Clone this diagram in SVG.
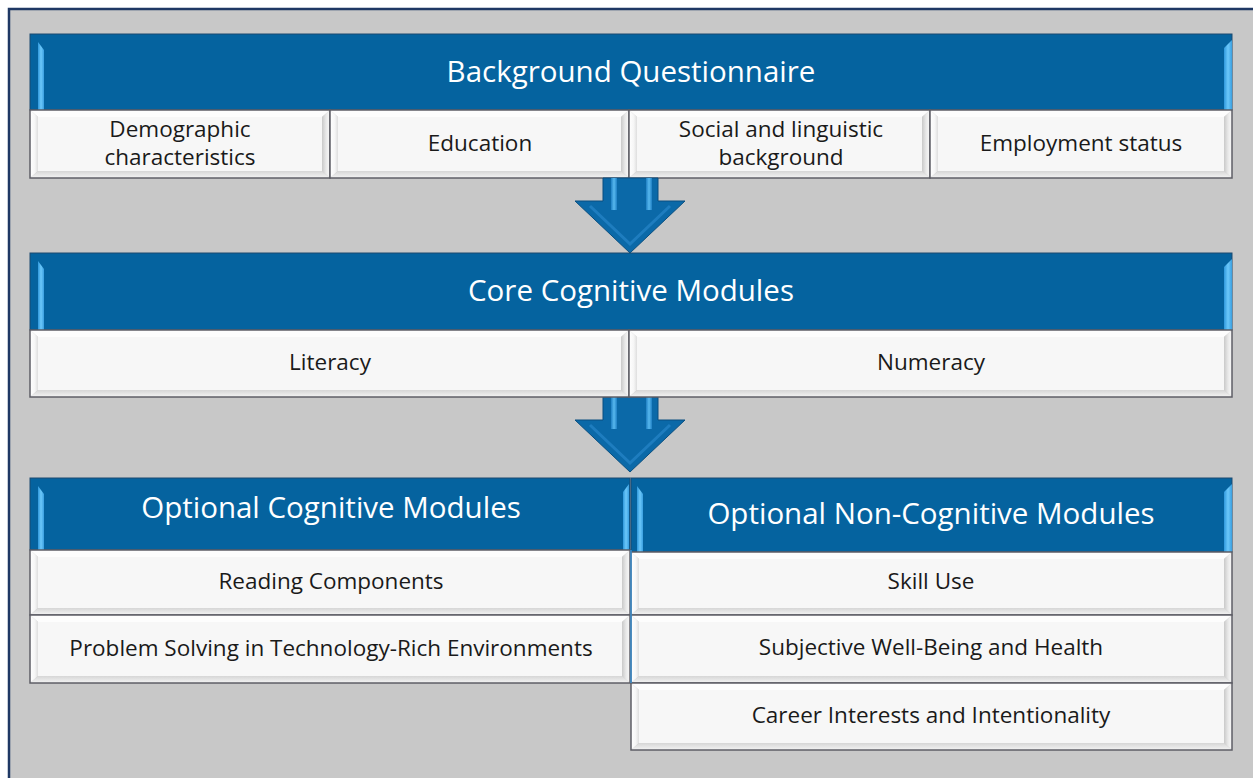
<svg xmlns="http://www.w3.org/2000/svg" width="1253" height="778" viewBox="0 0 1253 778">
<style>
.frame{fill:#c8c8c8;stroke:#1f3864;stroke-width:2.5}
.hdr{fill:#05639f;stroke:#1c4a70;stroke-width:1}
.hl{fill:url(#hlg)}
.bt{fill:#fdfdfd}
.bl{fill:url(#blg)}
.br{fill:url(#brg)}
.bb{fill:url(#bbg)}
.face{fill:#f7f7f7}
.cell{fill:none;stroke:#5e5e66;stroke-width:1.5}
.ht{font-family:"Open Sans","Liberation Sans",sans-serif;font-size:29.5px;fill:#ffffff;text-anchor:middle}
.ct{font-family:"Open Sans","Liberation Sans",sans-serif;font-size:22.5px;fill:#1a1a1a;text-anchor:middle}
.arrow{fill:#0b69a8;stroke:#0a4f80;stroke-width:1}
.ahl{fill:url(#ahg)}
</style>
<defs>
<linearGradient id="hlg" x1="0" y1="0" x2="1" y2="0">
<stop offset="0" stop-color="#2f98dc"/><stop offset="0.5" stop-color="#6cc8fa"/><stop offset="1" stop-color="#3a9fe0"/>
</linearGradient>
<linearGradient id="ahg" x1="0" y1="0" x2="1" y2="0">
<stop offset="0" stop-color="#1f80c4"/><stop offset="0.5" stop-color="#58b8ee"/><stop offset="1" stop-color="#1f80c4"/>
</linearGradient>
<linearGradient id="blg" x1="0" y1="0" x2="1" y2="0">
<stop offset="0" stop-color="#ffffff"/><stop offset="0.6" stop-color="#f6f6f6"/><stop offset="1" stop-color="#dedede"/>
</linearGradient>
<linearGradient id="brg" x1="0" y1="0" x2="1" y2="0">
<stop offset="0" stop-color="#c9c9c9"/><stop offset="0.5" stop-color="#e8e8e8"/><stop offset="1" stop-color="#fafafa"/>
</linearGradient>
<linearGradient id="bbg" x1="0" y1="0" x2="0" y2="1">
<stop offset="0" stop-color="#d6d6d6"/><stop offset="1" stop-color="#f4f4f4"/>
</linearGradient>
</defs>
<rect width="1253" height="778" fill="#ffffff"/>
<path class="frame" d="M9,790 V9 H1265 V790 Z"/>

<g id="background-questionnaire">
<rect class="hdr" x="30" y="34" width="1202" height="76"/>
<polygon class="hl" points="38,42 44,50 44,110 38,110"/>
<polygon class="hl" points="1224,48 1232,40 1232,110 1224,110"/>
<text class="ht" x="631" y="82">Background Questionnaire</text>
</g>

<g id="cell-demographic">
<polygon class="bt" points="30,110 330,110 322,117 38,117"/>
<polygon class="bl" points="30,110 38,117 38,171 30,178"/>
<polygon class="br" points="322,117 330,110 330,178 322,171"/>
<polygon class="bb" points="38,171 322,171 330,178 30,178"/>
<rect class="face" x="38" y="117" width="284" height="54"/>
<rect class="cell" x="30" y="110" width="300" height="68"/>
<text class="ct" x="180" y="137">Demographic</text>
<text class="ct" x="180" y="165">characteristics</text>
</g>
<g id="cell-education">
<polygon class="bt" points="330,110 629,110 621,117 338,117"/>
<polygon class="bl" points="330,110 338,117 338,171 330,178"/>
<polygon class="br" points="621,117 629,110 629,178 621,171"/>
<polygon class="bb" points="338,171 621,171 629,178 330,178"/>
<rect class="face" x="338" y="117" width="283" height="54"/>
<rect class="cell" x="330" y="110" width="299" height="68"/>
<text class="ct" x="480" y="151">Education</text>
</g>
<g id="cell-social">
<polygon class="bt" points="629,110 930,110 922,117 637,117"/>
<polygon class="bl" points="629,110 637,117 637,171 629,178"/>
<polygon class="br" points="922,117 930,110 930,178 922,171"/>
<polygon class="bb" points="637,171 922,171 930,178 629,178"/>
<rect class="face" x="637" y="117" width="285" height="54"/>
<rect class="cell" x="629" y="110" width="301" height="68"/>
<text class="ct" x="781" y="137">Social and linguistic</text>
<text class="ct" x="781" y="165">background</text>
</g>
<g id="cell-employment">
<polygon class="bt" points="930,110 1232,110 1224,117 938,117"/>
<polygon class="bl" points="930,110 938,117 938,171 930,178"/>
<polygon class="br" points="1224,117 1232,110 1232,178 1224,171"/>
<polygon class="bb" points="938,171 1224,171 1232,178 930,178"/>
<rect class="face" x="938" y="117" width="286" height="54"/>
<rect class="cell" x="930" y="110" width="302" height="68"/>
<text class="ct" x="1081" y="151">Employment status</text>
</g>

<g id="connectors">
<g id="arrow-1">
<polygon class="arrow" points="603,178 658,178 658,201 685,201 630,253 575,201 603,201"/>
<rect class="ahl" x="611" y="178" width="6" height="32"/>
<rect class="ahl" x="646" y="178" width="6" height="32"/>
<polyline points="590,206 630,244 670,206" fill="none" stroke="#2b8bcf" stroke-width="3" opacity="0.6"/>
</g>
<g id="arrow-2">
<polygon class="arrow" points="603,397 658,397 658,420 685,420 630,472 575,420 603,420"/>
<rect class="ahl" x="611" y="397" width="6" height="32"/>
<rect class="ahl" x="646" y="397" width="6" height="32"/>
<polyline points="590,425 630,463 670,425" fill="none" stroke="#2b8bcf" stroke-width="3" opacity="0.6"/>
</g>
</g>

<g id="core-cognitive-modules">
<rect class="hdr" x="30" y="253" width="1202" height="77"/>
<polygon class="hl" points="38,261 44,269 44,330 38,330"/>
<polygon class="hl" points="1224,267 1232,259 1232,330 1224,330"/>
<text class="ht" x="631" y="301">Core Cognitive Modules</text>
</g>
<g id="cell-literacy">
<polygon class="bt" points="30,330 629,330 621,337 38,337"/>
<polygon class="bl" points="30,330 38,337 38,390 30,397"/>
<polygon class="br" points="621,337 629,330 629,397 621,390"/>
<polygon class="bb" points="38,390 621,390 629,397 30,397"/>
<rect class="face" x="38" y="337" width="583" height="53"/>
<rect class="cell" x="30" y="330" width="599" height="67"/>
<text class="ct" x="330" y="370">Literacy</text>
</g>
<g id="cell-numeracy">
<polygon class="bt" points="629,330 1232,330 1224,337 637,337"/>
<polygon class="bl" points="629,330 637,337 637,390 629,397"/>
<polygon class="br" points="1224,337 1232,330 1232,397 1224,390"/>
<polygon class="bb" points="637,390 1224,390 1232,397 629,397"/>
<rect class="face" x="637" y="337" width="587" height="53"/>
<rect class="cell" x="629" y="330" width="603" height="67"/>
<text class="ct" x="931" y="370">Numeracy</text>
</g>

<g id="optional-cognitive-modules">
<rect class="hdr" x="30" y="478" width="600" height="72"/>
<polygon class="hl" points="38,486 44,494 44,550 38,550"/>
<polygon class="hl" points="623,492 629,484 629,550 623,550"/>
<text class="ht" x="331" y="518">Optional Cognitive Modules</text>
</g>
<g id="cell-reading">
<polygon class="bt" points="30,550 630,550 622,557 38,557"/>
<polygon class="bl" points="30,550 38,557 38,608 30,615"/>
<polygon class="br" points="622,557 630,550 630,615 622,608"/>
<polygon class="bb" points="38,608 622,608 630,615 30,615"/>
<rect class="face" x="38" y="557" width="584" height="51"/>
<rect class="cell" x="30" y="550" width="600" height="65"/>
<text class="ct" x="331" y="589">Reading Components</text>
</g>
<g id="cell-problem-solving">
<polygon class="bt" points="30,615 630,615 622,622 38,622"/>
<polygon class="bl" points="30,615 38,622 38,676 30,683"/>
<polygon class="br" points="622,622 630,615 630,683 622,676"/>
<polygon class="bb" points="38,676 622,676 630,683 30,683"/>
<rect class="face" x="38" y="622" width="584" height="54"/>
<rect class="cell" x="30" y="615" width="600" height="68"/>
<text class="ct" x="331" y="656">Problem Solving in Technology-Rich Environments</text>
</g>

<g id="optional-non-cognitive-modules">
<rect class="hdr" x="631" y="478" width="601" height="74"/>
<polygon class="hl" points="637,486 643,494 643,552 637,552"/>
<polygon class="hl" points="1224,492 1232,484 1232,552 1224,552"/>
<text class="ht" x="931" y="524">Optional Non-Cognitive Modules</text>
</g>
<g id="cell-skill-use">
<polygon class="bt" points="631,552 1232,552 1224,559 639,559"/>
<polygon class="bl" points="631,552 639,559 639,608 631,615"/>
<polygon class="br" points="1224,559 1232,552 1232,615 1224,608"/>
<polygon class="bb" points="639,608 1224,608 1232,615 631,615"/>
<rect class="face" x="639" y="559" width="585" height="49"/>
<rect class="cell" x="631" y="552" width="601" height="63"/>
<text class="ct" x="931" y="589">Skill Use</text>
</g>
<g id="cell-well-being">
<polygon class="bt" points="631,615 1232,615 1224,622 639,622"/>
<polygon class="bl" points="631,615 639,622 639,676 631,683"/>
<polygon class="br" points="1224,622 1232,615 1232,683 1224,676"/>
<polygon class="bb" points="639,676 1224,676 1232,683 631,683"/>
<rect class="face" x="639" y="622" width="585" height="54"/>
<rect class="cell" x="631" y="615" width="601" height="68"/>
<text class="ct" x="931" y="655">Subjective Well-Being and Health</text>
</g>
<g id="cell-career">
<polygon class="bt" points="631,683 1232,683 1224,690 639,690"/>
<polygon class="bl" points="631,683 639,690 639,743 631,750"/>
<polygon class="br" points="1224,690 1232,683 1232,750 1224,743"/>
<polygon class="bb" points="639,743 1224,743 1232,750 631,750"/>
<rect class="face" x="639" y="690" width="585" height="53"/>
<rect class="cell" x="631" y="683" width="601" height="67"/>
<text class="ct" x="931" y="723">Career Interests and Intentionality</text>
</g>
<line x1="631" y1="550" x2="631" y2="683" stroke="#3a8fd0" stroke-width="1.5"/>
</svg>
